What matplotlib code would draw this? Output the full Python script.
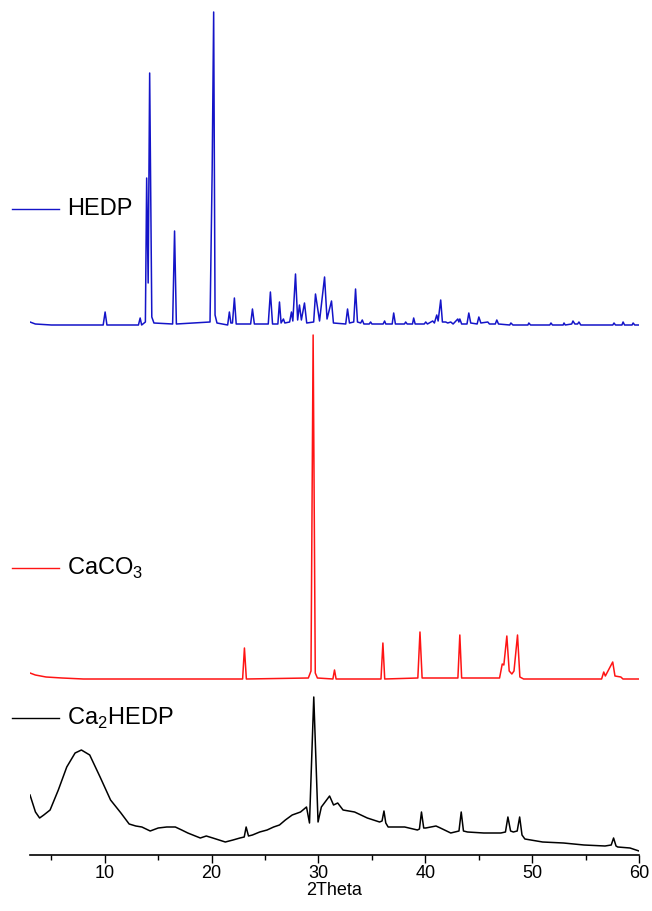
import numpy as np
import matplotlib
matplotlib.use("Agg")
import matplotlib.pyplot as plt
from matplotlib.lines import Line2D

plt.rcParams['font.family'] = ['Liberation Sans', 'DejaVu Sans']
plt.rcParams['mathtext.fontset'] = 'custom'
plt.rcParams['mathtext.rm'] = 'Liberation Sans'

# HEDP pattern (2theta, intensity above its own baseline)
hedp_2t = [3.0, 3.5, 5.0, 9.85, 10.03, 10.2, 13.15, 13.31, 13.45, 13.8, 13.92, 14.06, 14.2, 14.4, 14.6,
           16.35, 16.53, 16.7, 19.85, 20.05, 20.19, 20.32, 20.5, 21.5, 21.66, 21.8, 21.95, 22.13, 22.3,
           23.65, 23.82, 24.0, 25.3, 25.5, 25.7, 26.2, 26.35, 26.5, 26.72, 26.85, 27.3, 27.47, 27.6,
           27.85, 28.05, 28.22, 28.4, 28.69, 28.9, 29.55, 29.72, 30.1, 30.57, 30.8, 31.22, 31.4,
           32.55, 32.72, 32.9, 33.3, 33.47, 33.65, 33.95, 34.1, 34.25, 34.75, 34.88, 35.0, 36.05, 36.19,
           36.3, 36.9, 37.04, 37.2, 38.05, 38.16, 38.3, 38.8, 38.91, 39.05, 39.9, 40.04, 40.2, 40.69,
           40.85, 41.07, 41.2, 41.44, 41.6, 41.91, 42.1, 42.38, 42.6, 43.04, 43.14, 43.23, 43.4, 43.9,
           44.07, 44.25, 44.85, 45.01, 45.2, 45.85, 46.0, 46.55, 46.69, 46.85, 47.9, 48.01, 48.2,
           49.6, 49.69, 49.85, 51.65, 51.76, 51.9, 52.9, 52.98, 53.1, 53.7, 53.82, 54.0, 54.25, 54.38,
           54.55, 57.55, 57.66, 57.8, 58.4, 58.51, 58.65, 59.35, 59.45, 59.6, 60.0]
hedp_int = [3, 1, 0, 0, 13, 0, 0, 7, 0, 3, 147, 42, 252, 8, 2,
            1, 94, 1, 3, 155, 313, 10, 2, 0, 13, 2, 2, 27, 1,
            1, 16, 1, 1, 33, 1, 1, 23, 2, 6, 2, 3, 13, 4,
            51, 5, 20, 5, 22, 2, 3, 31, 4, 48, 6, 24, 2,
            1, 16, 2, 3, 36, 3, 2, 5, 1, 1, 3, 1, 1, 4,
            1, 1, 12, 1, 1, 3, 1, 1, 7, 1, 1, 3, 1, 4,
            2, 10, 4, 25, 3, 3, 2, 3, 1, 6, 3, 6, 1, 1,
            12, 2, 1, 8, 2, 3, 1, 1, 5, 1, 0, 2, 0,
            0, 2, 0, 0, 2, 0, 0, 2, 0, 1, 4, 1, 1, 3,
            0, 0, 2, 0, 0, 3, 0, 0, 2, 0, 0]

# CaCO3 pattern
caco3_2t = [3.0, 3.5, 4.5, 6.0, 8.0, 22.9, 23.07, 23.25, 29.05, 29.3, 29.5, 29.7, 29.9, 31.35, 31.5,
            31.65, 35.85, 36.03, 36.2, 39.3, 39.5, 39.7, 43.05, 43.23, 43.4, 46.95, 47.2, 47.35,
            47.63, 47.85, 48.1, 48.3, 48.63, 48.85, 49.2, 56.5, 56.7, 56.85, 57.54, 57.75, 58.3,
            58.5, 60.0]
caco3_int = [6, 4, 2, 1, 0, 0, 31, 0, 1, 8, 344, 6, 1, 0, 9,
             0, 0, 36, 0, 1, 47, 1, 1, 44, 1, 1, 15, 14,
             43, 8, 5, 8, 44, 2, 0, 0, 7, 3, 17, 3, 2,
             0, 0]

# Ca2HEDP pattern
ca2hedp_2t = [3.0, 3.51, 3.9, 4.29, 4.88, 5.65, 6.44, 7.22, 7.81, 8.59, 9.56, 10.54, 11.51, 12.28,
              12.9, 13.47, 14.25, 15.0, 15.8, 16.6, 17.2, 17.77, 18.94, 19.5, 20.11, 21.28, 22.0,
              22.65, 23.05, 23.23, 23.45, 23.82, 24.5, 25.19, 25.8, 26.35, 26.9, 27.54, 28.32, 28.88,
              29.16, 29.56, 29.96, 30.27, 31.04, 31.41, 31.8, 32.3, 33.38, 34.57, 35.72, 35.95, 36.13,
              36.3, 36.52, 38.07, 39.26, 39.45, 39.64, 39.85, 40.04, 41.0, 41.41, 42.38, 43.15, 43.36,
              43.57, 43.95, 45.47, 47.07, 47.5, 47.73, 47.98, 48.24, 48.6, 48.83, 49.05, 49.32, 50.98,
              52.93, 54.85, 56.82, 57.4, 57.62, 57.85, 58.01, 59.16, 60.0]
ca2hedp_int = [60, 43, 37, 40, 45, 65, 88, 102, 105, 100, 78, 55, 42, 31,
               29, 28, 24, 27, 28, 28, 25, 22, 17, 19, 17, 13, 15,
               17, 18, 28, 19, 20, 23, 25, 28, 30, 35, 40, 43, 48,
               32, 158, 33, 48, 59, 50, 52, 45, 43, 37, 33, 34, 44,
               32, 28, 28, 25, 26, 43, 27, 27, 29, 27, 22, 24, 43,
               24, 23, 22, 22, 23, 38, 24, 23, 24, 38, 20, 16, 13,
               12, 10, 9, 10, 17, 9, 8, 7, 4]

offsets = {'HEDP': 530, 'CaCO3': 176, 'Ca2HEDP': 0}

fig = plt.figure(figsize=(6.52, 9.11), dpi=100)
ax = fig.add_axes([30 / 652, 1 - 855 / 911, 609 / 652, 850 / 911])

ax.plot(hedp_2t, np.array(hedp_int) + offsets['HEDP'], color='#1414c8', lw=1.1)
ax.plot(caco3_2t, np.array(caco3_int) + offsets['CaCO3'], color='#ff1414', lw=1.1)
ax.plot(ca2hedp_2t, np.array(ca2hedp_int) + offsets['Ca2HEDP'], color='black', lw=1.1)

ax.set_xlim(3, 60)
ax.set_ylim(0, 850)
for s in ['top', 'left', 'right']:
    ax.spines[s].set_visible(False)
ax.spines['bottom'].set_linewidth(1.2)
ax.set_yticks([])
ax.set_xticks([10, 20, 30, 40, 50, 60])
ax.set_xticks([5, 15, 25, 35, 45, 55], minor=True)
ax.tick_params(axis='x', which='major', length=6, width=1, labelsize=13, pad=1.5)
ax.tick_params(axis='x', which='minor', length=3.5, width=1)
ax.set_xlabel('2Theta', fontsize=13, labelpad=0)

# legend-like labels next to each trace
labels = [('HEDP', '#1414c8', 209, 17),
          (r'CaCO$_\mathregular{3}$', '#ff1414', 568, 17),
          (r'Ca$_\mathregular{2}$HEDP', 'black', 718, 17)]
for txt, col, py, fs in labels:
    yf = 1 - py / 911
    fig.add_artist(Line2D([12 / 652, 59 / 652], [yf, yf], color=col, lw=1.0))
    fig.text(67 / 652, yf, txt, fontsize=fs, va='center', ha='left')

fig.savefig('out.png', dpi=100)
